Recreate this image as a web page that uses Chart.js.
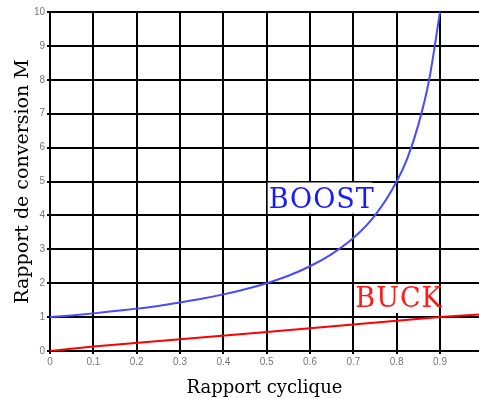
<!DOCTYPE html>
<html>
<head>
<meta charset="utf-8">
<script src="https://cdn.jsdelivr.net/npm/chart.js@4"></script>
<style>
  html, body { margin: 0; padding: 0; background: #fff; overflow: hidden; }
</style>
</head>
<body>
<canvas id="convChart" width="479" height="399"></canvas>
<script>
// Values
const boostD = [0, 0.05, 0.1, 0.15, 0.2, 0.25, 0.3, 0.35, 0.4, 0.45, 0.5, 0.55, 0.6, 0.65, 0.7, 0.75, 0.8, 0.825, 0.85, 0.875, 0.9];
const boostM = [1, 1.05, 1.11, 1.18, 1.25, 1.33, 1.43, 1.54, 1.67, 1.82, 2, 2.22, 2.5, 2.86, 3.33, 4, 5, 5.7, 6.67, 8, 10];
const buckD = [0, 0.1, 0.5, 0.9, 0.99];
const buckM = [0, 0.13, 0.56, 1.0, 1.08];
const xTicks = [0, 0.1, 0.2, 0.3, 0.4, 0.5, 0.6, 0.7, 0.8, 0.9];
const yTicks = [0, 1, 2, 3, 4, 5, 6, 7, 8, 9, 10];

const toPoints = (xs, ys) => xs.map((x, i) => ({ x: x, y: ys[i] }));

// text labels with a white box behind them, box given in data units
const curveLabels = {
  id: 'curveLabels',
  beforeDatasetsDraw(chart) {
    const x = chart.scales.x, y = chart.scales.y, ctx = chart.ctx;
    const items = [
      { text: 'BOOST', color: '#1a1aff', x0: 0.5, x1: 0.745, y0: 4.05, y1: 5 },
      { text: 'BUCK', color: '#ff1a1a', x0: 0.7, x1: 0.9, y0: 1.12, y1: 2 }
    ];
    ctx.save();
    items.forEach(it => {
      const l = x.getPixelForValue(it.x0) + 1, r = x.getPixelForValue(it.x1) - 1;
      const t = y.getPixelForValue(it.y1) + 1, b = y.getPixelForValue(it.y0);
      ctx.fillStyle = '#fff';
      ctx.fillRect(l, t, r - l, b - t);
      ctx.fillStyle = it.color;
      ctx.font = '27px "DejaVu Serif"';
      ctx.letterSpacing = '1px';
      ctx.textBaseline = 'alphabetic';
      ctx.fillText(it.text, l + 1, b - 6);
    });
    ctx.restore();
  }
};

const ctx = document.getElementById('convChart').getContext('2d');
new Chart(ctx, {
  type: 'line',
  data: {
    datasets: [
      {
        label: 'BOOST',
        data: toPoints(boostD, boostM),
        borderColor: '#4a4aff',
        borderWidth: 2,
        pointRadius: 0,
        fill: false,
        cubicInterpolationMode: 'monotone'
      },
      {
        label: 'BUCK',
        data: toPoints(buckD, buckM),
        borderColor: '#ff0000',
        borderWidth: 2,
        pointRadius: 0,
        fill: false,
        tension: 0
      }
    ]
  },
  options: {
    responsive: false,
    animation: false,
    layout: { padding: { top: 12, right: 0, left: 0, bottom: 0 } },
    plugins: { legend: { display: false }, tooltip: { enabled: false } },
    scales: {
      x: {
        type: 'linear',
        min: 0,
        max: 0.99,
        afterBuildTicks: s => { s.ticks = xTicks.map(v => ({ value: v })); },
        afterFit: s => { s.height = 48; },
        grid: { color: '#000', lineWidth: 2, tickLength: 3 },
        border: { color: '#000', width: 2 },
        ticks: {
          color: '#777',
          font: { family: 'Liberation Sans', size: 10 },
          padding: 2,
          maxRotation: 0,
          callback: v => String(Math.round(v * 10) / 10)
        },
        title: {
          display: true,
          text: 'Rapport cyclique',
          color: '#000',
          font: { family: 'DejaVu Serif', size: 18 },
          padding: { top: 1, bottom: 0 }
        }
      },
      y: {
        min: 0,
        max: 10,
        afterBuildTicks: s => { s.ticks = yTicks.map(v => ({ value: v })); },
        afterFit: s => { s.width = 50; },
        grid: { color: '#000', lineWidth: 2, tickLength: 3 },
        border: { color: '#000', width: 2 },
        ticks: {
          color: '#777',
          font: { family: 'Liberation Sans', size: 10 },
          padding: 2
        },
        title: {
          display: true,
          text: 'Rapport de conversion M',
          color: '#000',
          font: { family: 'DejaVu Serif', size: 19 },
          padding: { top: 12, bottom: 0 }
        }
      }
    }
  },
  plugins: [curveLabels]
});
</script>
</body>
</html>
